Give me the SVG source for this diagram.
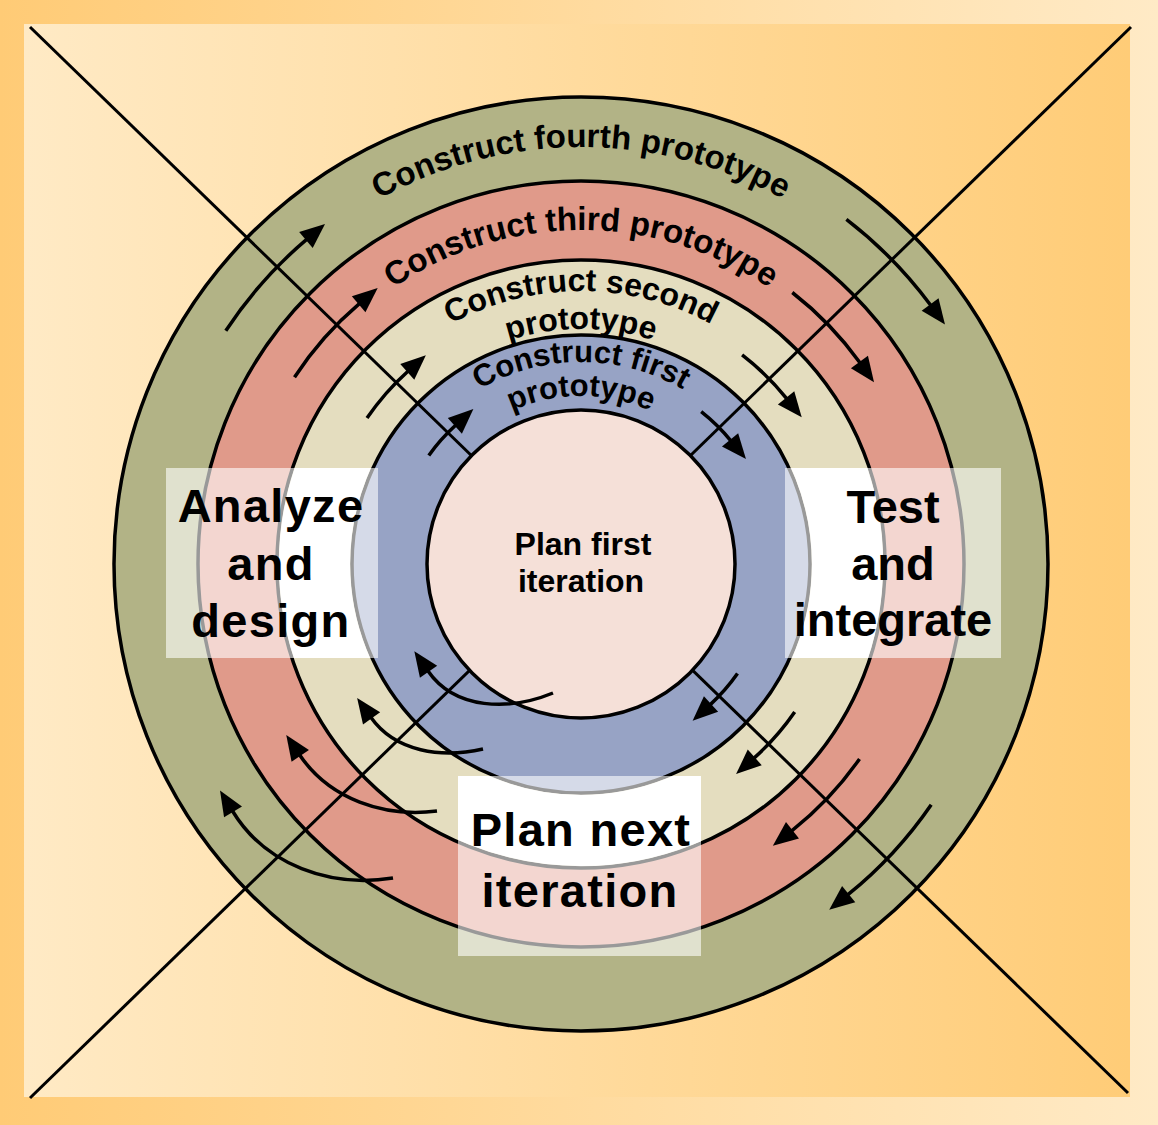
<svg xmlns="http://www.w3.org/2000/svg" width="1158" height="1125" viewBox="0 0 1158 1125">
<style>
.ring{stroke:#000;stroke-width:3.5}
.xline{stroke:#000;stroke-width:3;fill:none}
.arr{stroke:#000;stroke-width:3.5;fill:none;marker-end:url(#ah)}
.lbl{font-family:"Liberation Sans",Arial,Helvetica,sans-serif;font-weight:bold;fill:#000}
.rl{font-size:33px}
.big{font-size:47px;text-anchor:middle}
.sp{letter-spacing:1.3px}
.box{fill:#fff;fill-opacity:0.6}
</style>
<defs>
<linearGradient id="bgOuter" x1="0" y1="0" x2="1" y2="0"><stop offset="0" stop-color="#FFCB76"/><stop offset="1" stop-color="#FFEAC6"/></linearGradient>
<linearGradient id="bgInner" x1="0" y1="0" x2="1" y2="0"><stop offset="0" stop-color="#FFEAC5"/><stop offset="1" stop-color="#FFCC77"/></linearGradient>
<marker id="ah" markerUnits="userSpaceOnUse" markerWidth="26" markerHeight="22" refX="1" refY="10.5" orient="auto" overflow="visible"><path d="M0,0 L25,10.5 L0,21 Z" fill="#000"/></marker>
<clipPath id="boxclip"><rect x="166" y="468" width="212" height="190"/><rect x="785" y="468" width="216" height="190"/><rect x="458" y="776" width="243" height="180"/></clipPath>
<path id="tpG" d="M164,564 A417,417 0 0 1 998,564"/>
<path id="tpR" d="M247,564 A334,334 0 0 1 915,564"/>
<path id="tpY1" d="M308,564 A273,273 0 0 1 854,564"/>
<path id="tpY2" d="M346,564 A235,235 0 0 1 816,564"/>
<path id="tpB1" d="M379,564 A202,202 0 0 1 783,564"/>
<path id="tpB2" d="M413,564 A168,168 0 0 1 749,564"/>
</defs>
<g id="background">
<rect x="0" y="0" width="1158" height="1125" fill="url(#bgOuter)"/>
<rect x="24" y="24" width="1106" height="1073" fill="url(#bgInner)"/>
</g>
<g id="rings">
<circle id="ring-fourth" class="ring" cx="581" cy="564" r="467" fill="#B2B386"/>
<circle id="ring-third" class="ring" cx="581" cy="564" r="383" fill="#E09A8A"/>
<circle id="ring-second" class="ring" cx="581" cy="564" r="304" fill="#E4DDBF"/>
<circle id="ring-first" class="ring" cx="581" cy="564" r="229" fill="#97A3C5"/>
</g>
<g id="connectors">
<line class="xline" x1="30" y1="27" x2="1128" y2="1093"/>
<line class="xline" x1="1131" y1="27" x2="30" y2="1098"/>
</g>
<g id="plan-first">
<circle class="ring" cx="581" cy="564" r="154" fill="#F5E0D8"/>
<text class="lbl" font-size="32" text-anchor="middle" x="583" y="555">Plan first</text>
<text class="lbl" font-size="32" text-anchor="middle" x="581" y="592">iteration</text>
</g>
<g id="arrows">
<path class="arr" d="M225.8,330.7 A425,425 0 0 1 306.7,239.4"/>
<path class="arr" d="M294.5,377.2 A342,342 0 0 1 359.4,303.6"/>
<path class="arr" d="M367,418.1 A259,259 0 0 1 408,371.2"/>
<path class="arr" d="M428.8,455.4 A187,187 0 0 1 455.6,425.2"/>
<path class="arr" d="M846.4,219.4 A435,435 0 0 1 930.7,305.3"/>
<path class="arr" d="M792.3,292.5 A344,344 0 0 1 860,362.8"/>
<path class="arr" d="M742.1,354.8 A264,264 0 0 1 786.7,398.6"/>
<path class="arr" d="M701.2,411.7 A194,194 0 0 1 730.7,440.6"/>
<path class="arr" d="M737.5,673.6 A191,191 0 0 1 710.3,704.6"/>
<path class="arr" d="M794.7,712 A260,260 0 0 1 754,758.1"/>
<path class="arr" d="M859.5,759 A340,340 0 0 1 791.7,830.8"/>
<path class="arr" d="M931.2,804.7 A425,425 0 0 1 847.9,894.7"/>
<path class="arr" d="M553,693 C509,711 455,710 428,671"/>
<path class="arr" d="M483,749 C441.7,758.3 395.4,752 371,717.5"/>
<path class="arr" d="M437,811 C384,817.8 329.6,799.2 299.7,755"/>
<path class="arr" d="M393,878 C330.4,888.2 265.5,865.2 232.5,811"/>
</g>
<g id="ring-labels" class="lbl rl">
<text><textPath href="#tpG" startOffset="50%" text-anchor="middle">Construct fourth prototype</textPath></text>
<text><textPath href="#tpR" startOffset="50%" text-anchor="middle">Construct third prototype</textPath></text>
<text font-size="32"><textPath href="#tpY1" startOffset="50%" text-anchor="middle">Construct second</textPath></text>
<text font-size="32"><textPath href="#tpY2" startOffset="50%" text-anchor="middle">prototype</textPath></text>
<text font-size="31"><textPath href="#tpB1" startOffset="50%" text-anchor="middle">Construct first</textPath></text>
<text font-size="31"><textPath href="#tpB2" startOffset="50%" text-anchor="middle">prototype</textPath></text>
</g>
<g id="overlays">
<rect class="box" x="166" y="468" width="212" height="190"/>
<rect class="box" x="785" y="468" width="216" height="190"/>
<rect class="box" x="458" y="776" width="243" height="180"/>
<circle clip-path="url(#boxclip)" cx="581" cy="564" r="266.5" fill="none" stroke="#fff" stroke-width="71"/>
</g>
<g id="analyze-design">
<text class="lbl big sp" x="271" y="522">Analyze</text>
<text class="lbl big sp" x="271" y="580">and</text>
<text class="lbl big sp" x="271" y="637">design</text>
</g>
<g id="test-integrate">
<text class="lbl big" x="893" y="523">Test</text>
<text class="lbl big" x="893" y="580">and</text>
<text class="lbl big" x="893" y="636">integrate</text>
</g>
<g id="plan-next">
<text class="lbl big sp" x="581" y="846">Plan next</text>
<text class="lbl big sp" x="580" y="907">iteration</text>
</g>
</svg>
